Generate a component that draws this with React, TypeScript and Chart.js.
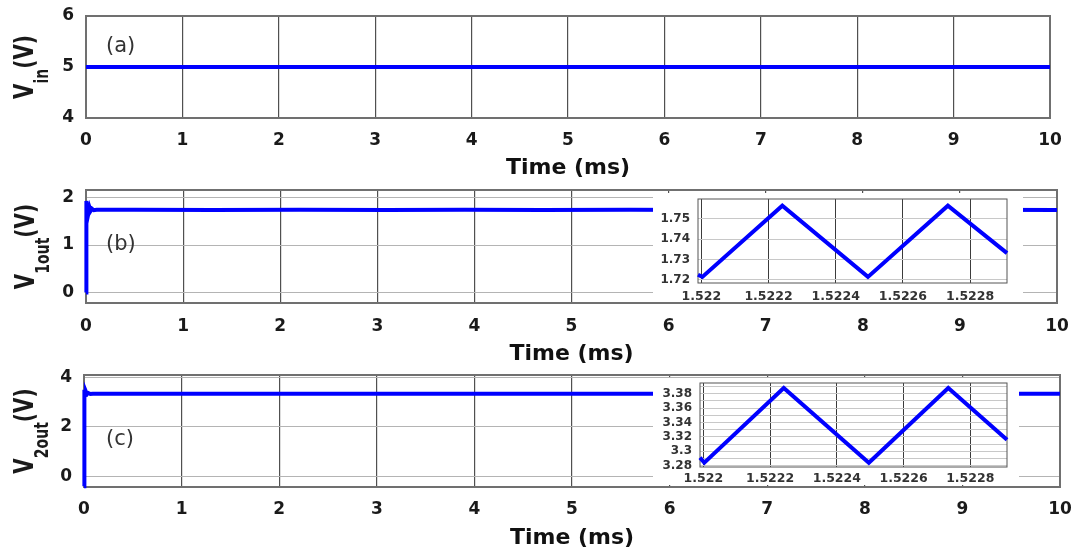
import React, { useEffect, useRef } from "react";
import { Chart, registerables } from "chart.js";

Chart.register(...registerables);

// ---------------- data ----------------
const vinTime = [0, 10];
const vinValues = [5, 5];

const v1Time = [0, 0.004, 0.012, 0.02, 0.028, 0.037, 0.048, 0.062, 0.08, 0.11, 0.5, 1.3, 2.2, 3.1, 3.9, 4.7, 5.6, 6.4, 7.3, 8.1, 9, 10];
const v1Values = [0, 1.93, 1.66, 1.85, 1.7, 1.79, 1.72, 1.765, 1.735, 1.745, 1.742, 1.738, 1.744, 1.739, 1.743, 1.74, 1.742, 1.741, 1.743, 1.739, 1.742, 1.741];

const v2Time = [0, 0.004, 0.012, 0.02, 0.03, 0.045, 0.065, 0.09, 0.5, 1.3, 2.2, 3.1, 3.9, 4.7, 5.6, 6.4, 7.3, 8.1, 9, 10];
const v2Values = [-0.4, 3.5, 3.3, 3.42, 3.32, 3.37, 3.33, 3.345, 3.34, 3.342, 3.338, 3.341, 3.339, 3.342, 3.34, 3.341, 3.339, 3.342, 3.34, 3.341];

const insetTime = [1.52199, 1.522003, 1.522241, 1.522496, 1.522734, 1.52291];
const inset1Values = [1.7226, 1.7215, 1.7565, 1.7215, 1.7565, 1.7332];
const inset2Values = [3.291, 3.284, 3.388, 3.284, 3.388, 3.316];

const xTickStep = 1;
const insetTickStep = 0.0002;

// ---------------- layout ----------------
const W = 1077;
const FONT = "'DejaVu Sans', sans-serif";

type Panel = {
  top: number; height: number;
  chartTop: number; chartBottom: number; chartLeft: number; chartRight: number;
  time: number[]; values: number[];
  yMin: number; yMax: number; yStep: number;
  xLabelPad: number; titlePad: number;
  tag: string; tagDx: number; tagDy: number;
  sub: string; titleX: number;
};

const panels: Panel[] = [
  { top: 0, height: 185, chartTop: 16, chartBottom: 118, chartLeft: 86, chartRight: 1050,
    time: vinTime, values: vinValues, yMin: 4, yMax: 6, yStep: 1,
    xLabelPad: 12, titlePad: 6, tag: "(a)", tagDx: 20, tagDy: 31, sub: "in", titleX: 33 },
  { top: 170, height: 200, chartTop: 190, chartBottom: 303, chartLeft: 86, chartRight: 1057,
    time: v1Time, values: v1Values, yMin: -0.22, yMax: 2.16, yStep: 1,
    xLabelPad: 13, titlePad: 5, tag: "(b)", tagDx: 20, tagDy: 55, sub: "1out", titleX: 34 },
  { top: 355, height: 194, chartTop: 375, chartBottom: 487, chartLeft: 84, chartRight: 1060,
    time: v2Time, values: v2Values, yMin: -0.43, yMax: 4.1, yStep: 2,
    xLabelPad: 12, titlePad: 0, tag: "(c)", tagDx: 22, tagDy: 65, sub: "2out", titleX: 33 },
];

type Inset = {
  left: number; top: number; width: number; height: number;
  chartLeft: number; chartTop: number; chartRight: number; chartBottom: number;
  values: number[]; yMin: number; yMax: number; yStep: number; hideOdd: boolean;
  xLabelPad: number;
};

const insets: Inset[] = [
  { left: 653, top: 193, width: 370, height: 109, chartLeft: 698, chartTop: 199, chartRight: 1007, chartBottom: 283,
    values: inset1Values, yMin: 1.7185, yMax: 1.7598, yStep: 0.01, hideOdd: false, xLabelPad: 7 },
  { left: 653, top: 378, width: 366, height: 107, chartLeft: 700, chartTop: 383, chartRight: 1007, chartBottom: 467,
    values: inset2Values, yMin: 3.278, yMax: 3.395, yStep: 0.01, hideOdd: true, xLabelPad: 5 },
];

// ---------------- plugins ----------------
const framePlugin = {
  id: "frame",
  beforeDatasetsDraw(chart: any, _a: any, opts: any) {
    const { ctx, chartArea: a } = chart;
    ctx.save();
    ctx.strokeStyle = opts.color;
    ctx.lineWidth = opts.width;
    ctx.strokeRect(a.left, a.top, a.right - a.left, a.bottom - a.top);
    ctx.restore();
  },
};

const panelTextPlugin = {
  id: "panelText",
  afterDraw(chart: any, _a: any, opts: any) {
    if (!opts || !opts.tag) return;
    const { ctx, chartArea: a } = chart;
    ctx.save();
    ctx.font = `21px ${FONT}`;
    ctx.fillStyle = "#333";
    ctx.textBaseline = "middle";
    ctx.textAlign = "left";
    ctx.fillText(opts.tag, a.left + opts.tagDx, a.top + opts.tagDy);
    ctx.restore();

    ctx.save();
    const big = `bold 20px ${FONT}`;
    const small = `bold 14px ${FONT}`;
    ctx.font = big;
    const wV = ctx.measureText("V").width;
    const wP = ctx.measureText("(V)").width;
    ctx.font = small;
    const wS = ctx.measureText(opts.sub).width;
    const total = wV + wS + wP;
    ctx.translate(opts.titleX, (a.top + a.bottom) / 2);
    ctx.rotate(-Math.PI / 2);
    ctx.scale(1, 1.35);
    ctx.fillStyle = "#1a1a1a";
    ctx.textBaseline = "alphabetic";
    ctx.textAlign = "left";
    let x = -total / 2;
    ctx.font = big;
    ctx.fillText("V", x, 0);
    x += wV;
    ctx.font = small;
    ctx.fillText(opts.sub, x, 11);
    x += wS;
    ctx.font = big;
    ctx.fillText("(V)", x, 0);
    ctx.restore();
  },
};

function zeroPad(s: any) {
  s.paddingLeft = 0;
  s.paddingRight = 0;
  s.paddingTop = 0;
  s.paddingBottom = 0;
}

function mainConfig(p: Panel): any {
  return {
    type: "line",
    data: {
      datasets: [{
        data: p.time.map((t, i) => ({ x: t, y: p.values[i] })),
        borderColor: "#0000ff", borderWidth: 4, pointRadius: 0, tension: 0, clip: false,
      }],
    },
    options: {
      responsive: false, animation: false, events: [],
      layout: { padding: { left: 0, top: p.chartTop - p.top, right: W - p.chartRight, bottom: 0 } },
      plugins: {
        legend: { display: false }, tooltip: { enabled: false },
        frame: { color: "#707070", width: 2 },
        panelText: { tag: p.tag, tagDx: p.tagDx, tagDy: p.tagDy, sub: p.sub, titleX: p.titleX },
      },
      scales: {
        x: {
          type: "linear", min: 0, max: 10,
          ticks: { stepSize: xTickStep, autoSkip: false, maxRotation: 0, padding: p.xLabelPad, color: "#1a1a1a",
            font: { family: FONT, size: 17, weight: "bold" } },
          grid: { color: "#505050", lineWidth: 1.2, drawTicks: false },
          border: { display: false },
          title: { display: true, text: "Time (ms)", color: "#111",
            font: { family: FONT, size: 22, weight: "bold", lineHeight: 1 }, padding: { top: 0, bottom: p.titlePad } },
          afterFit: (s: any) => { s.height = p.top + p.height - p.chartBottom; zeroPad(s); },
        },
        y: {
          type: "linear", min: p.yMin, max: p.yMax,
          ticks: { stepSize: p.yStep, includeBounds: false, autoSkip: false, padding: 12, color: "#1a1a1a",
            font: { family: FONT, size: 17, weight: "bold" } },
          grid: { color: "#b4b4b4", lineWidth: 1, drawTicks: false },
          border: { display: false },
          afterFit: (s: any) => { s.width = p.chartLeft; zeroPad(s); },
        },
      },
    },
    plugins: [framePlugin, panelTextPlugin],
  };
}

function insetConfig(q: Inset): any {
  return {
    type: "line",
    data: {
      datasets: [{
        data: insetTime.map((t, i) => ({ x: t, y: q.values[i] })),
        borderColor: "#0000ff", borderWidth: 4, pointRadius: 0, tension: 0, clip: false,
      }],
    },
    options: {
      responsive: false, animation: false, events: [],
      layout: { padding: { left: 0, top: q.chartTop - q.top, right: q.left + q.width - q.chartRight, bottom: 0 } },
      plugins: {
        legend: { display: false }, tooltip: { enabled: false },
        frame: { color: "#555", width: 1 },
      },
      scales: {
        x: {
          type: "linear", min: insetTime[0], max: insetTime[insetTime.length - 1],
          ticks: { stepSize: insetTickStep, includeBounds: false, autoSkip: false, maxRotation: 0,
            padding: q.xLabelPad, color: "#333", font: { family: FONT, size: 12.5, weight: "bold", lineHeight: 1 },
            callback: (v: any) => String(Number(Number(v).toFixed(4))) },
          grid: { color: "#3c3c3c", lineWidth: 1, drawTicks: false },
          border: { display: false },
          afterFit: (s: any) => { s.height = q.top + q.height - q.chartBottom; zeroPad(s); },
        },
        y: {
          type: "linear", min: q.yMin, max: q.yMax,
          ticks: { stepSize: q.yStep, includeBounds: false, autoSkip: false, padding: 8, color: "#333",
            font: { family: FONT, size: 12, weight: "bold", lineHeight: 1 },
            callback: (v: any) => {
              const r = Math.round(Number(v) * 100);
              if (q.hideOdd && r % 2 !== 0) return "";
              return String(Number((r / 100).toFixed(2)));
            } },
          grid: { color: "#c8c8c8", lineWidth: 1, drawTicks: false },
          border: { display: false },
          afterFit: (s: any) => { s.width = q.chartLeft - q.left; zeroPad(s); },
        },
      },
    },
    plugins: [framePlugin],
  };
}

function ChartCanvas(props: { config: any; left: number; top: number; width: number; height: number; bg?: string }) {
  const ref = useRef<HTMLCanvasElement>(null);
  useEffect(() => {
    const chart = new Chart(ref.current as HTMLCanvasElement, props.config);
    return () => chart.destroy();
  }, []);
  return (
    <canvas
      ref={ref}
      width={props.width}
      height={props.height}
      style={{ position: "absolute", left: props.left, top: props.top, width: props.width, height: props.height, background: props.bg || "transparent" }}
    />
  );
}

export default function App() {
  return (
    <div style={{ position: "absolute", left: 0, top: 0, width: W, height: 549, background: "#fff", overflow: "hidden" }}>
      {panels.map((p, i) => (
        <ChartCanvas key={"m" + i} config={mainConfig(p)} left={0} top={p.top} width={W} height={p.height} />
      ))}
      {insets.map((q, i) => (
        <ChartCanvas key={"i" + i} config={insetConfig(q)} left={q.left} top={q.top} width={q.width} height={q.height} bg="#fff" />
      ))}
    </div>
  );
}
